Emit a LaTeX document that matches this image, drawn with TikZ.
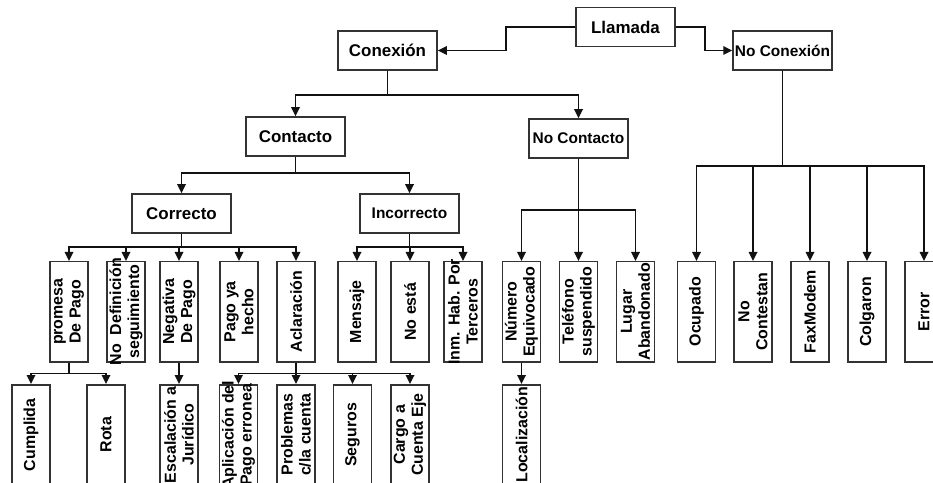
\documentclass[tikz,border=0pt]{standalone}
\usepackage{fontspec}
\setmainfont{Liberation Sans}
\usetikzlibrary{arrows.meta}

\definecolor{boxline}{HTML}{333333}
\definecolor{linecol}{HTML}{111111}

\tikzset{
  hbox/.style={draw=boxline, line width=1.5bp, minimum width=99bp,
    minimum height=39bp, inner sep=0pt, font=\fontsize{17}{19}\selectfont\bfseries},
  narrowtxt/.style={font=\fontsize{15.5}{18}\selectfont\bfseries},
  vbx/.style={draw=boxline, line width=1.5bp, minimum width=38bp,
    minimum height=100bp, inner sep=0pt, anchor=north},
  vtxt/.style={rotate=90, align=center, inner sep=0pt,
    font=\fontsize{16}{18}\selectfont\bfseries},
  link/.style={draw=linecol, line width=1.7bp},
  arr/.style={link, -{Triangle[length=9bp,width=8.5bp]}},
}

% a vertical leaf box: name, x of centre, y of top edge, rotated text
\newcommand\leafbox[4]{%
  \node[vbx] (#1) at (#2,#3) {};
  \node[vtxt] (#1-t) at (#1.center) {#4};}

\begin{document}
\begin{tikzpicture}[x=1bp,y=-1bp]
\useasboundingbox (0,0) rectangle (933,483);
\clip (0,0) rectangle (933,483);
\fill[white] (0,0) rectangle (933,483);

% upper levels
\node[hbox] (llamada) at (625.5,27) {Llamada};
\node[hbox] (conexion) at (387.5,50.5) {Conexión};
\node[hbox, narrowtxt] (noconexion) at (782.5,50.5) {No Conexión};
\node[hbox] (contacto) at (295.5,136.5) {Contacto};
\node[hbox, narrowtxt] (nocontacto) at (578.5,138.5) {No Contacto};
\node[hbox] (correcto) at (181.5,213.5) {Correcto};
\node[hbox, narrowtxt] (incorrecto) at (409.5,213.5) {Incorrecto};

% second row of leaves
\leafbox{promesa}{69}{261}{promesa\\De Pago}
\leafbox{nodef}{126}{261}{No\ \ Definición\\seguimiento}
\leafbox{negativa}{179}{261}{Negativa\\De Pago}
\leafbox{pago}{239}{261}{Pago ya\\hecho}
\leafbox{aclaracion}{296}{261}{Aclaración}
\leafbox{mensaje}{357}{261}{Mensaje}
\leafbox{noesta}{410}{261}{No está}
\leafbox{inm}{463}{261}{Inm. Hab. Por\\Terceros}
\leafbox{numero}{521.5}{261}{Número\\Equivocado}
\leafbox{telefono}{578.5}{261}{Teléfono\\suspendido}
\leafbox{lugar}{635.5}{261}{Lugar\\Abandonado}
\leafbox{ocupado}{696.5}{261}{Ocupado}
\leafbox{nocontestan}{753}{261}{No\\Contestan}
\leafbox{faxmodem}{810}{261}{FaxModem}
\leafbox{colgaron}{867}{261}{Colgaron}
\leafbox{error}{924}{261}{Error}

% third row of leaves
\leafbox{cumplida}{31}{384}{Cumplida}
\leafbox{rota}{106}{384}{Rota}
\leafbox{escalacion}{179}{384}{Escalación a\\Jurídico}
\leafbox{aplicacion}{238.5}{384}{Aplicación del\\Pago erronea}
\leafbox{problemas}{296}{384}{Problemas\\c/la cuenta}
\leafbox{seguros}{352.5}{384}{Seguros}
\leafbox{cargo}{410}{384}{Cargo a\\Cuenta Eje}
\leafbox{localizacion}{521.5}{384}{Localización}

% connectors
\draw[arr] (llamada.west) -- ++(-69,0) |- (conexion.east);
\draw[arr] (llamada.east) -- ++(29,0) |- (noconexion.west);
\foreach \c in {contacto,nocontacto}
  \draw[arr] (conexion.south) -- ++(0,24) -| (\c.north);
\foreach \c in {correcto,incorrecto}
  \draw[arr] (contacto.south) -- ++(0,16) -| (\c.north);
\foreach \c in {numero,telefono,lugar}
  \draw[arr] (nocontacto.south) -- ++(0,51) -| (\c.north);
\foreach \c in {promesa,nodef,negativa,pago,aclaracion}
  \draw[arr] (correcto.south) -- ++(0,13) -| (\c.north);
\foreach \c in {mensaje,noesta,inm}
  \draw[arr] (incorrecto.south) -- ++(0,13) -| (\c.north);
\foreach \c in {ocupado,nocontestan,faxmodem,colgaron,error}
  \draw[arr] (noconexion.south) -- ++(0,95) -| (\c.north);
\foreach \c in {cumplida,rota}
  \draw[arr] (promesa.south) -- ++(0,11) -| (\c.north);
\draw[arr] (negativa.south) -- (escalacion.north);
\foreach \c in {aplicacion,problemas,seguros,cargo}
  \draw[arr] (aclaracion.south) -- ++(0,11) -| (\c.north);
\draw[arr] (numero.south) -- (localizacion.north);
\end{tikzpicture}
\end{document}
